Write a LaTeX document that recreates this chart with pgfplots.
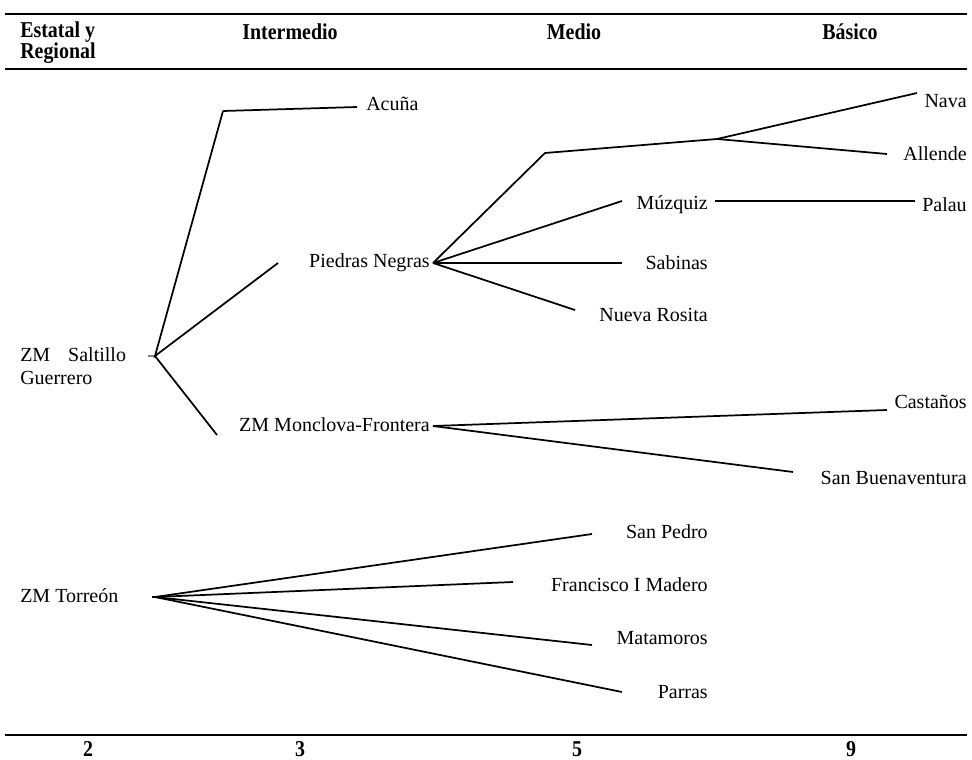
\documentclass[border=0pt]{standalone}
\usepackage{pgfplots}
\pgfplotsset{compat=1.18}
\usepackage{fontspec}
\setmainfont{Liberation Serif}

\newcommand{\lbl}{\fontsize{15}{17}\selectfont}
\newcommand{\hdr}[1]{\scalebox{0.88}[1]{\fontsize{17}{19}\selectfont\bfseries #1}}
\pgfplotsset{br/.style={black, solid, line width=1.3pt, mark=none}}

\begin{document}
\begin{tikzpicture}
\begin{axis}[
  x=0.75pt, y=0.75pt, y dir=reverse,
  xmin=0, xmax=972, ymin=0, ymax=760,
  hide axis, clip=false,
  nodes={inner sep=0pt},
]
% frame of the page
\addplot[draw=none] coordinates {(0,0) (972,760)};

% rules
\addplot[black, line width=2pt] coordinates {(5,14) (967,14)};
\addplot[black, line width=2pt] coordinates {(5,69) (967,69)};
\addplot[black, line width=2pt] coordinates {(5,735) (967,735)};

% header
\node[anchor=west] at (axis cs:20,32) {\hdr{Estatal y}};
\node[anchor=west] at (axis cs:20,53) {\hdr{Regional}};
\node at (axis cs:290,32) {\hdr{Intermedio}};
\node at (axis cs:574,32) {\hdr{Medio}};
\node at (axis cs:850,32) {\hdr{Básico}};

% footer numbers
\node at (axis cs:88,749) {\hdr{2}};
\node at (axis cs:300,749) {\hdr{3}};
\node at (axis cs:577,749) {\hdr{5}};
\node at (axis cs:851,749) {\hdr{9}};

% ZM Saltillo Guerrero
\addplot[gray, line width=0.8pt] coordinates {(148,356) (155,356)};
\addplot[br] coordinates {(223,111) (155,356) (278,263)};
\addplot[br] coordinates {(155,356) (217,435)};
\addplot[br] coordinates {(223,111) (357,107)};
\node[anchor=west] at (axis cs:20,355) {\lbl ZM\hspace{0.9em}Saltillo};
\node[anchor=west] at (axis cs:20,378) {\lbl Guerrero};
\node[anchor=west] at (axis cs:366,104) {\lbl Acuña};
\node[anchor=east] at (axis cs:430,263) {\lbl Piedras Negras};
\node[anchor=east] at (axis cs:430,425) {\lbl ZM Monclova-Frontera};

% Piedras Negras
\addplot[br] coordinates {(433,263) (545,153) (717,139) (917,93)};
\addplot[br] coordinates {(717,139) (887,154)};
\addplot[br] coordinates {(433,263) (622,201)};
\addplot[br] coordinates {(433,263) (622,263)};
\addplot[br] coordinates {(433,263) (575,310)};
\addplot[br] coordinates {(715,201) (915,201)};
\node[anchor=east] at (axis cs:967,101) {\lbl Nava};
\node[anchor=east] at (axis cs:967,154) {\lbl Allende};
\node[anchor=east] at (axis cs:708,205) {\lbl Múzquiz};
\node[anchor=east] at (axis cs:967,205) {\lbl Palau};
\node[anchor=east] at (axis cs:708,263) {\lbl Sabinas};
\node[anchor=east] at (axis cs:708,315) {\lbl Nueva Rosita};

% ZM Monclova-Frontera
\addplot[br] coordinates {(433,426) (887,410)};
\addplot[br] coordinates {(433,426) (793,472)};
\node[anchor=east] at (axis cs:967,402) {\lbl Castaños};
\node[anchor=east] at (axis cs:967,478) {\lbl San Buenaventura};

% ZM Torreon
\addplot[br] coordinates {(152,597) (155,597)};
\addplot[br] coordinates {(155,597) (592,534)};
\addplot[br] coordinates {(155,597) (513,582)};
\addplot[br] coordinates {(155,597) (592,645)};
\addplot[br] coordinates {(155,597) (622,692)};
\node[anchor=west] at (axis cs:20,596) {\lbl ZM Torreón};
\node[anchor=east] at (axis cs:708,532) {\lbl San Pedro};
\node[anchor=east] at (axis cs:708,585) {\lbl Francisco I Madero};
\node[anchor=east] at (axis cs:708,638) {\lbl Matamoros};
\node[anchor=east] at (axis cs:708,692) {\lbl Parras};
\end{axis}
\end{tikzpicture}
\end{document}
